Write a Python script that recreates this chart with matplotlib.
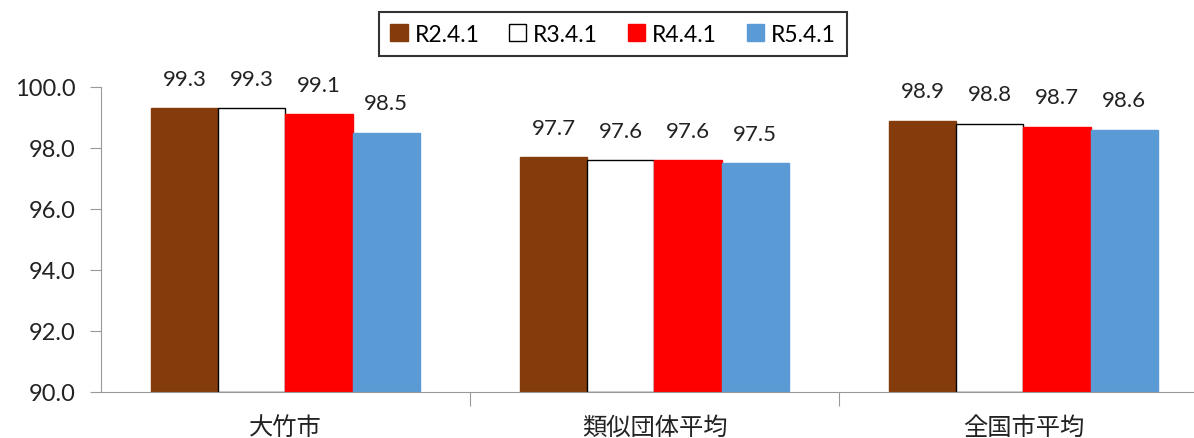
import matplotlib.pyplot as plt
import numpy as np

categories = ["大竹市", "類似団体平均", "全国市平均"]
series_names = ["R2.4.1", "R3.4.1", "R4.4.1", "R5.4.1"]
r2 = [99.3, 97.7, 98.9]
r3 = [99.3, 97.6, 98.8]
r4 = [99.1, 97.6, 98.7]
r5 = [98.5, 97.5, 98.6]
yticks = [90.0, 92.0, 94.0, 96.0, 98.0, 100.0]

colors = ["#843c0c", "#ffffff", "#ff0000", "#5b9bd5"]
edges = ["#843c0c", "#000000", "#ff0000", "#5b9bd5"]

plt.rcParams['font.family'] = ['Lato', 'Noto Sans CJK JP', 'DejaVu Sans']

fig = plt.figure(figsize=(11.94, 4.39), dpi=100)
ax = fig.add_axes([101/1194, 1 - 393/439, (1208-101)/1194, (393-88)/439])

x = np.arange(len(categories))
w = 0.182
for i, vals in enumerate([r2, r3, r4, r5]):
    pos = x + (i - 1.5) * w
    bars = ax.bar(pos, np.array(vals) - 90, w, bottom=90, color=colors[i],
                  edgecolor=edges[i], linewidth=1, label=series_names[i])
    for p, v in zip(pos, vals):
        ax.annotate(f"{v:.1f}", (p, v), xytext=(0, 14), textcoords="offset points",
                    ha="center", va="bottom", fontsize=16, color="#222222",
                    annotation_clip=False)

ax.set_xlim(-0.5, 2.5)
ax.set_ylim(90, 100)
ax.set_yticks(yticks)
ax.set_yticklabels([f"{t:.1f}" for t in yticks], fontsize=17, color="#222222")
ax.set_xticks([0.5, 1.5])
ax.set_xticklabels([])
ax.tick_params(axis='x', length=10, color="#999999", direction='out')
ax.tick_params(axis='y', length=8, color="#999999", direction='out', pad=10)
for c, lab in zip(x, categories):
    ax.text(c, 88.85, lab, ha="center", va="center", fontsize=17.5,
            family=['Noto Sans CJK JP', 'DejaVu Sans'], transform=ax.transData,
            clip_on=False, color="#222222")
for s in ["top", "right"]:
    ax.spines[s].set_visible(False)
ax.spines["left"].set_color("#999999")
ax.spines["bottom"].set_color("#999999")

leg = fig.legend(loc="center", bbox_to_anchor=(613/1194, 1 - 35/439), ncol=4,
                 fontsize=16.5, frameon=True, fancybox=False, edgecolor="#000000",
                 handlelength=0.75, handleheight=0.75, handletextpad=0.3,
                 columnspacing=1.3, borderpad=0.5, borderaxespad=0)
leg.get_frame().set_linewidth(1.5)

fig.savefig("out.png", dpi=100)
